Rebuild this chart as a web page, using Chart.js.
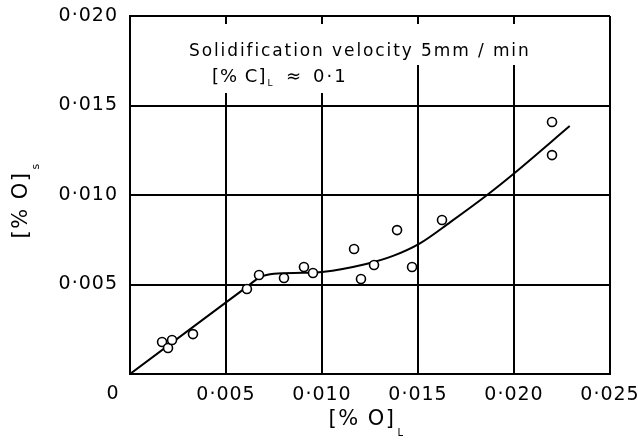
<!DOCTYPE html>
<html>
<head>
<meta charset="utf-8">
<script src="https://cdn.jsdelivr.net/npm/chart.js@4"></script>
<style>
  html, body { margin: 0; padding: 0; background: #fff; }
  #wrap { width: 638px; height: 441px; }
</style>
</head>
<body>
<div id="wrap"><canvas id="c" width="638" height="441"></canvas></div>
<script>
// Measured points: [%O]_L vs [%O]_s
const pointX = [0.00167, 0.00198, 0.00219, 0.00328, 0.00609, 0.00672, 0.00802, 0.00906, 0.00953, 0.01167, 0.01203, 0.01271, 0.01391, 0.01469, 0.01625, 0.02198, 0.02198];
const pointY = [0.00179, 0.00145, 0.00190, 0.00223, 0.00475, 0.00553, 0.00536, 0.00598, 0.00564, 0.00698, 0.00531, 0.00609, 0.00804, 0.00598, 0.00860, 0.01408, 0.01223];
// Fitted curve
const curveX = [0, 0.0050, 0.0060, 0.0068, 0.0075, 0.0090, 0.0100, 0.0123, 0.0137, 0.0151, 0.0167, 0.0186, 0.0200, 0.0229];
const curveY = [0, 0.0040, 0.0048, 0.00542, 0.0056, 0.00565, 0.0057, 0.00615, 0.0066, 0.0073, 0.0085, 0.0100, 0.0112, 0.01385];
// Axis ranges / ticks
const xTicks = [0, 0.005, 0.010, 0.015, 0.020, 0.025];
const yTicks = [0, 0.005, 0.010, 0.015, 0.020];
const noteLine1 = "Solidification velocity 5mm / min";

const FONT = "'DejaVu Sans', sans-serif";
const fmt = v => v.toFixed(3).replace('.', '\u00B7');

const annot = {
  id: 'annot',
  beforeDraw(chart) {
    chart.ctx.letterSpacing = '1px';
  },
  afterDraw(chart) {
    const ctx = chart.ctx;
    const a = chart.chartArea;
    const xs = chart.scales.x;
    ctx.save();
    ctx.fillStyle = '#000';
    // origin label "0"
    ctx.font = '19px ' + FONT;
    ctx.letterSpacing = '1px';
    ctx.textAlign = 'center';
    ctx.textBaseline = 'middle';
    ctx.fillText('0', xs.getPixelForValue(xTicks[0]) - 17, a.bottom + 20);

    // white boxes behind note text
    ctx.fillStyle = '#fff';
    ctx.fillRect(186, 24, 350, 41);
    ctx.fillRect(200, 64, 150, 29);
    ctx.fillStyle = '#000';
    ctx.textAlign = 'left';
    ctx.font = '17px ' + FONT;
    ctx.letterSpacing = '1.9px';
    ctx.fillText(noteLine1, 189, 52);
    // line 2: [% C]_L ≈ 0·1
    let x = 212;
    ctx.font = '18px ' + FONT;
    ctx.letterSpacing = '1px';
    ctx.fillText('[% C]', x, 77);
    x += ctx.measureText('[% C]').width;
    ctx.font = '9px ' + FONT;
    ctx.letterSpacing = '0px';
    ctx.fillText('L', x + 1, 84);
    x = 286;
    ctx.font = '18px ' + FONT;
    ctx.letterSpacing = '2px';
    ctx.fillText('\u2248', x, 77);
    ctx.fillText('0\u00B71', 313, 77);

    // x title [% O]_L
    ctx.font = '21px ' + FONT;
    ctx.letterSpacing = '1.5px';
    let t = '[% O]';
    let w = ctx.measureText(t).width;
    let cx = 362;
    ctx.fillText(t, cx - w / 2, 420);
    ctx.font = '10px ' + FONT;
    ctx.letterSpacing = '0px';
    ctx.fillText('L', cx + w / 2 + 2, 433);

    // y title [% O]_s rotated
    ctx.translate(22, 205);
    ctx.rotate(-Math.PI / 2);
    ctx.font = '21px ' + FONT;
    ctx.letterSpacing = '1.5px';
    w = ctx.measureText(t).width;
    ctx.fillText(t, -w / 2, 0);
    ctx.font = '11px ' + FONT;
    ctx.letterSpacing = '0px';
    ctx.fillText('s', w / 2 + 2, 14);
    ctx.restore();
  }
};

new Chart(document.getElementById('c'), {
  type: 'scatter',
  data: {
    datasets: [
      {
        type: 'scatter',
        data: pointX.map((x, i) => ({ x, y: pointY[i] })),
        pointRadius: 4.5,
        pointBorderWidth: 1.6,
        pointBorderColor: '#000',
        pointBackgroundColor: '#fff',
        showLine: false,
        order: 0
      },
      {
        type: 'line',
        data: curveX.map((x, i) => ({ x, y: curveY[i] })),
        borderColor: '#000',
        borderWidth: 2,
        pointRadius: 0,
        cubicInterpolationMode: 'monotone',
        fill: false,
        order: 1
      }
    ]
  },
  options: {
    responsive: false,
    animation: false,
    events: [],
    layout: { padding: { left: 0, right: 28, top: 16, bottom: 0 } },
    plugins: { legend: { display: false }, tooltip: { enabled: false } },
    scales: {
      x: {
        type: 'linear',
        min: xTicks[0], max: xTicks[xTicks.length - 1],
        afterBuildTicks: s => { s.ticks = xTicks.map(v => ({ value: v })); },
        ticks: {
          color: '#000', font: { family: FONT, size: 19 }, padding: 10,
          maxRotation: 0, autoSkip: false,
          callback: v => v === 0 ? '' : fmt(v)
        },
        grid: { color: '#000', lineWidth: 2, drawTicks: false },
        border: { color: '#000', width: 2 },
        afterFit: s => { s.height = 67; s.paddingLeft = 0; s.paddingRight = 0; }
      },
      y: {
        type: 'linear',
        min: yTicks[0], max: yTicks[yTicks.length - 1],
        afterBuildTicks: s => { s.ticks = yTicks.map(v => ({ value: v })); },
        ticks: {
          color: '#000', font: { family: FONT, size: 19 }, padding: 12,
          autoSkip: false,
          callback: v => v === 0 ? '' : fmt(v)
        },
        grid: { color: '#000', lineWidth: 2, drawTicks: false },
        border: { color: '#000', width: 2 },
        afterFit: s => { s.width = 130; s.paddingTop = 0; s.paddingBottom = 0; }
      }
    }
  },
  plugins: [annot]
});
</script>
</body>
</html>
